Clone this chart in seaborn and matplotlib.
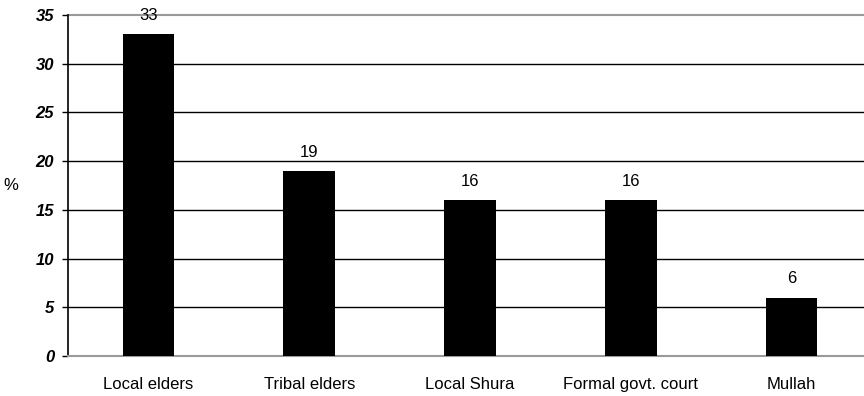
"""Bar chart: who people turn to for dispute resolution (%)."""

import matplotlib
matplotlib.use('Agg')
import matplotlib.pyplot as plt
import seaborn as sns
import pandas as pd


CATEGORIES = ['Local elders', 'Tribal elders', 'Local Shura', 'Formal govt. court', 'Mullah']
VALUES = [33, 19, 16, 16, 6]
Y_TICKS = [0, 5, 10, 15, 20, 25, 30, 35]


def main():
    sns.set_style('white', {'text.color': 'black', 'axes.labelcolor': 'black',
                            'xtick.color': 'black', 'ytick.color': 'black'})
    plt.rcParams['font.family'] = ['Liberation Sans', 'DejaVu Sans']

    df = pd.DataFrame({'category': CATEGORIES, 'value': VALUES})

    fig = plt.figure(figsize = (8.64, 3.96), dpi = 100)
    ax = fig.add_axes([68 / 864, 1 - 356 / 396, 1 - 68 / 864, (356 - 15) / 396])

    sns.barplot(data = df, x = 'category', y = 'value', color = 'black',
                width = 0.32, saturation = 1, ax = ax, zorder = 3,
                edgecolor = 'black', linewidth = 0)

    ax.set_ylim(0, 35)
    ax.set_xlim(-0.5, 4.45)
    ax.set_yticks(Y_TICKS)
    for t in Y_TICKS[1:-1]:
        ax.axhline(t, color = 'black', lw = 1, zorder = 1)
    ax.axhline(35, color = '#999999', lw = 1.5, zorder = 1, clip_on = False)

    for spine in ['top', 'right']:
        ax.spines[spine].set_visible(False)
    ax.spines['left'].set_color('black')
    ax.spines['left'].set_linewidth(1.2)
    ax.spines['bottom'].set_color('#999999')
    ax.spines['bottom'].set_linewidth(1.5)

    ax.tick_params(axis = 'y', length = 4, width = 1, colors = 'black', left = True,
                   labelsize = 12, pad = 6)
    ax.tick_params(axis = 'x', length = 0, labelsize = 12, pad = 15, colors = 'black')
    for lab in ax.get_yticklabels():
        lab.set_fontweight('bold')
        lab.set_fontstyle('italic')

    for i, v in enumerate(VALUES):
        ax.annotate(str(v), (i, v), xytext = (0, 8), textcoords = 'offset points',
                    ha = 'center', va = 'bottom', fontsize = 12, zorder = 4,
                    color = 'black', annotation_clip = False)

    ax.set_xlabel('')
    ax.set_ylabel('%', rotation = 0, fontsize = 12, labelpad = 18, va = 'center',
                  color = 'black')

    fig.savefig('out.png', dpi = 100)
    plt.close(fig)


if __name__ == '__main__':
    main()
